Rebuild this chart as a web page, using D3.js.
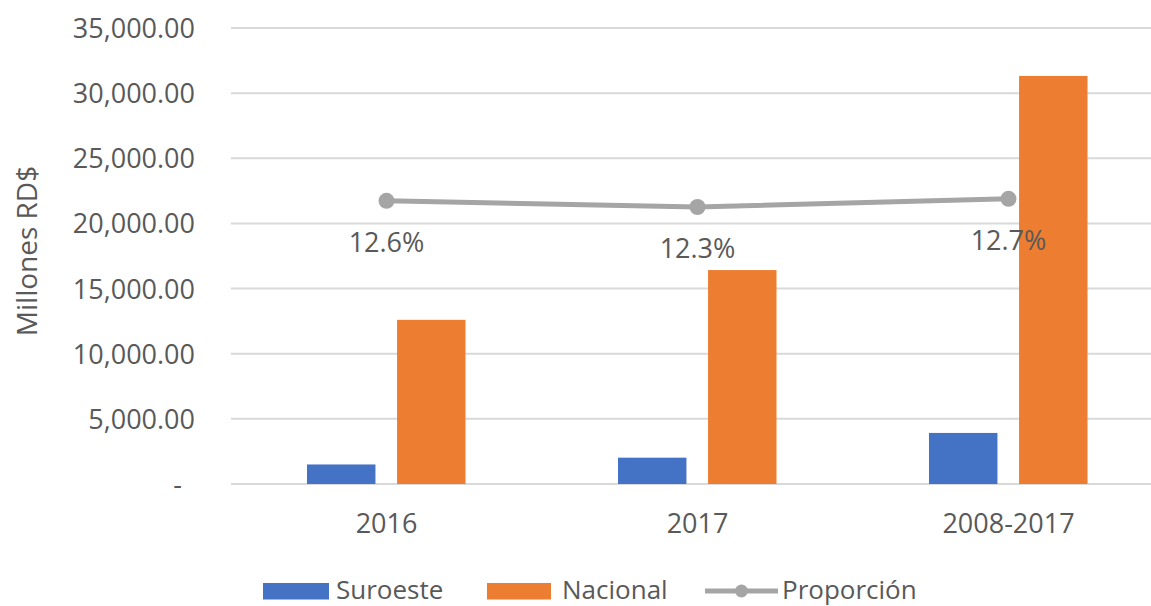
<!DOCTYPE html>
<html>
<head>
<meta charset="utf-8">
<script src="https://cdn.jsdelivr.net/npm/d3@7"></script>
<style>
  body { margin: 0; background: white; }
  text { font-family: "Open Sans", sans-serif; fill: #595959; }
</style>
</head>
<body>
<div id="chart"></div>
<script>
// data
var categories = ["2016", "2017", "2008-2017"];
var series = ["Suroeste", "Nacional"];
var suroeste = [1500, 2020, 3920];
var nacional = [12600, 16420, 31320];
var proporcion = [0.126, 0.123, 0.127];
var yTicks = [0, 5000, 10000, 15000, 20000, 25000, 30000, 35000];

var width = 1151, height = 606;
var colors = { "Suroeste": "#4472C4", "Nacional": "#ED7D31", "Proporción": "#A5A5A5" };

var svg = d3.select("#chart")
  .append("svg")
    .attr("width", width)
    .attr("height", height)
    .style("background", "white");

// scales
var x0 = d3.scaleBand()
  .domain(categories)
  .range([231, 1164]);

var x1 = d3.scaleBand()
  .domain(series)
  .range([76, 234.5])
  .paddingInner(0.24);

var y = d3.scaleLinear()
  .domain([0, 35000])
  .range([484, 28]);

// hidden secondary axis for the proportion line
var y2 = d3.scaleLinear()
  .domain([-0.0116, 0.21])
  .range([484, 28]);

// gridlines
svg.append("g")
  .selectAll("line")
  .data(yTicks)
  .enter()
  .append("line")
    .attr("x1", 231)
    .attr("x2", 1164)
    .attr("y1", function(d){ return y(d); })
    .attr("y2", function(d){ return y(d); })
    .attr("stroke", "#d9d9d9")
    .attr("stroke-width", 2);

// y axis labels
var fmt = d3.format(",.2f");
var yAxis = svg.append("g")
  .attr("transform", "translate(195,0)")
  .call(d3.axisLeft(y).tickValues(yTicks).tickSize(0).tickPadding(0)
    .tickFormat(function(d){ return d === 0 ? "-" : fmt(d); }));
yAxis.select(".domain").remove();
yAxis.selectAll("text")
  .style("font-size", "27px")
  .attr("fill", "#595959")
  .attr("dy", "0.35em")
  .attr("dx", function(d){ return d === 0 ? -13 : 0; });

// x axis labels
var xAxis = svg.append("g")
  .attr("transform", "translate(0,484)")
  .call(d3.axisBottom(x0).tickSize(0).tickPadding(0));
xAxis.select(".domain").remove();
xAxis.selectAll("text")
  .style("font-size", "27px")
  .attr("fill", "#595959")
  .attr("dy", null)
  .attr("y", 49);

// y title
svg.append("text")
  .attr("transform", "translate(37,251) rotate(-90)")
  .attr("text-anchor", "middle")
  .style("font-size", "28px")
  .text("Millones RD$");

// bars
var rows = categories.map(function(c, i){
  return { cat: c, values: [ { key: "Suroeste", value: suroeste[i] }, { key: "Nacional", value: nacional[i] } ] };
});

svg.append("g")
  .selectAll("g")
  .data(rows)
  .enter()
  .append("g")
    .attr("transform", function(d){ return "translate(" + x0(d.cat) + ",0)"; })
  .selectAll("rect")
  .data(function(d){ return d.values; })
  .enter()
  .append("rect")
    .attr("x", function(d){ return x1(d.key); })
    .attr("width", x1.bandwidth())
    .attr("y", function(d){ return y(d.value); })
    .attr("height", function(d){ return y(0) - y(d.value); })
    .attr("fill", function(d){ return colors[d.key]; });

// proportion line
var pts = categories.map(function(c, i){ return { cat: c, value: proporcion[i] }; });
var cx = function(d){ return x0(d.cat) + x0.bandwidth() / 2; };

svg.append("path")
  .datum(pts)
  .attr("fill", "none")
  .attr("stroke", colors["Proporción"])
  .attr("stroke-width", 5)
  .attr("stroke-linecap", "round")
  .attr("d", d3.line().x(cx).y(function(d){ return y2(d.value); }));

svg.append("g")
  .selectAll("circle")
  .data(pts)
  .enter()
  .append("circle")
    .attr("cx", cx)
    .attr("cy", function(d){ return y2(d.value); })
    .attr("r", 8)
    .attr("fill", colors["Proporción"]);

svg.append("g")
  .selectAll("text")
  .data(pts)
  .enter()
  .append("text")
    .attr("x", cx)
    .attr("y", function(d){ return y2(d.value) + 51; })
    .attr("text-anchor", "middle")
    .style("font-size", "27px")
    .attr("fill", "#404040")
    .text(function(d){ return d3.format(".1%")(d.value); });

// legend
var legend = svg.append("g");
legend.append("rect").attr("x", 263).attr("y", 583).attr("width", 66).attr("height", 16.5).attr("fill", colors["Suroeste"]);
legend.append("text").attr("x", 336).attr("y", 599).style("font-size", "26px").text("Suroeste");
legend.append("rect").attr("x", 487).attr("y", 583).attr("width", 64).attr("height", 16.5).attr("fill", colors["Nacional"]);
legend.append("text").attr("x", 562).attr("y", 599).style("font-size", "26px").text("Nacional");
legend.append("line").attr("x1", 705).attr("x2", 778).attr("y1", 591).attr("y2", 591)
  .attr("stroke", colors["Proporción"]).attr("stroke-width", 5);
legend.append("circle").attr("cx", 741.5).attr("cy", 591).attr("r", 6.5).attr("fill", colors["Proporción"]);
legend.append("text").attr("x", 782).attr("y", 599).style("font-size", "26px").text("Proporción");
</script>
</body>
</html>
